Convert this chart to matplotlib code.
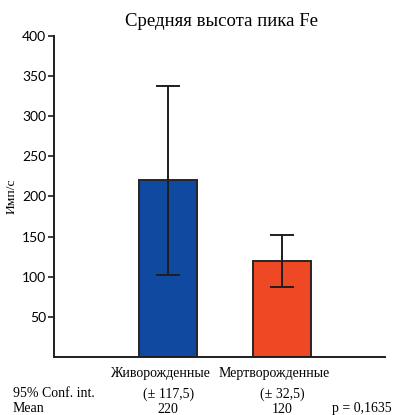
import matplotlib
matplotlib.use("Agg")
import matplotlib.pyplot as plt

# Data
categories = ["Живорожденные", "Мертворожденные"]
means = [220, 120]
conf_int = [117.5, 32.5]
bar_colors = ["#0f4aa0", "#ef4824"]
y_ticks = [50, 100, 150, 200, 250, 300, 350, 400]
p_value_text = "p = 0,1635"

serif = ["Liberation Serif", "DejaVu Serif"]
sans = ["Lato", "DejaVu Sans"]

fig = plt.figure(figsize=(3.95, 4.15), dpi=100)
ax = fig.add_axes([0.1367, 0.1398, 0.8383, 0.7735])

x = list(range(len(categories)))
ax.bar(x, means, width=0.51, color=bar_colors, edgecolor="#262626", linewidth=1.4, zorder=2)
ax.errorbar(x, means, yerr=conf_int, fmt="none", ecolor="#1e1e1e",
            elinewidth=1.4, capsize=8.3, capthick=1.4, zorder=3)

ax.set_xlim(-1.0, 1.9)
ax.set_ylim(0, 400)
ax.set_yticks(y_ticks)
ax.set_yticklabels([str(v) for v in y_ticks], fontfamily=sans, fontsize=10)
ax.set_xticks([])

for side in ("top", "right"):
    ax.spines[side].set_visible(False)
for side in ("left", "bottom"):
    ax.spines[side].set_linewidth(1.4)
    ax.spines[side].set_color("#1e1e1e")
ax.tick_params(axis="y", direction="out", length=4, width=1.2, color="#1e1e1e", pad=1.5)

ax.set_ylabel("Имп/c", fontfamily=serif, fontsize=9.7, labelpad=3)
fig.text(0.56, 0.947, "Средняя высота пика Fe", fontfamily=serif, fontsize=13.5,
         ha="center", va="center")

# Category labels and summary rows under the axis
xt = ax.get_xaxis_transform()
for xi, cat in zip(x, categories):
    ax.text(xi - 0.07, -0.05, cat, transform=xt, fontfamily=serif,
            fontsize=10, ha="center", va="center")
    ax.text(xi, -0.116, f"(± {conf_int[xi]:g})".replace(".", ","),
            transform=xt, fontfamily=serif, fontsize=10, ha="center", va="center")
    ax.text(xi, -0.163, f"{means[xi]}", transform=xt,
            fontfamily=serif, fontsize=10, ha="center", va="center")

fig.text(13 / 395, 1 - 393 / 415, "95% Conf. int.", fontfamily=serif, fontsize=10,
         ha="left", va="center")
fig.text(13 / 395, 1 - 408 / 415, "Mean", fontfamily=serif, fontsize=10,
         ha="left", va="center")
fig.text(392 / 395, 1 - 408 / 415, p_value_text, fontfamily=serif, fontsize=10,
         ha="right", va="center")

fig.savefig("out.png", dpi=100)
